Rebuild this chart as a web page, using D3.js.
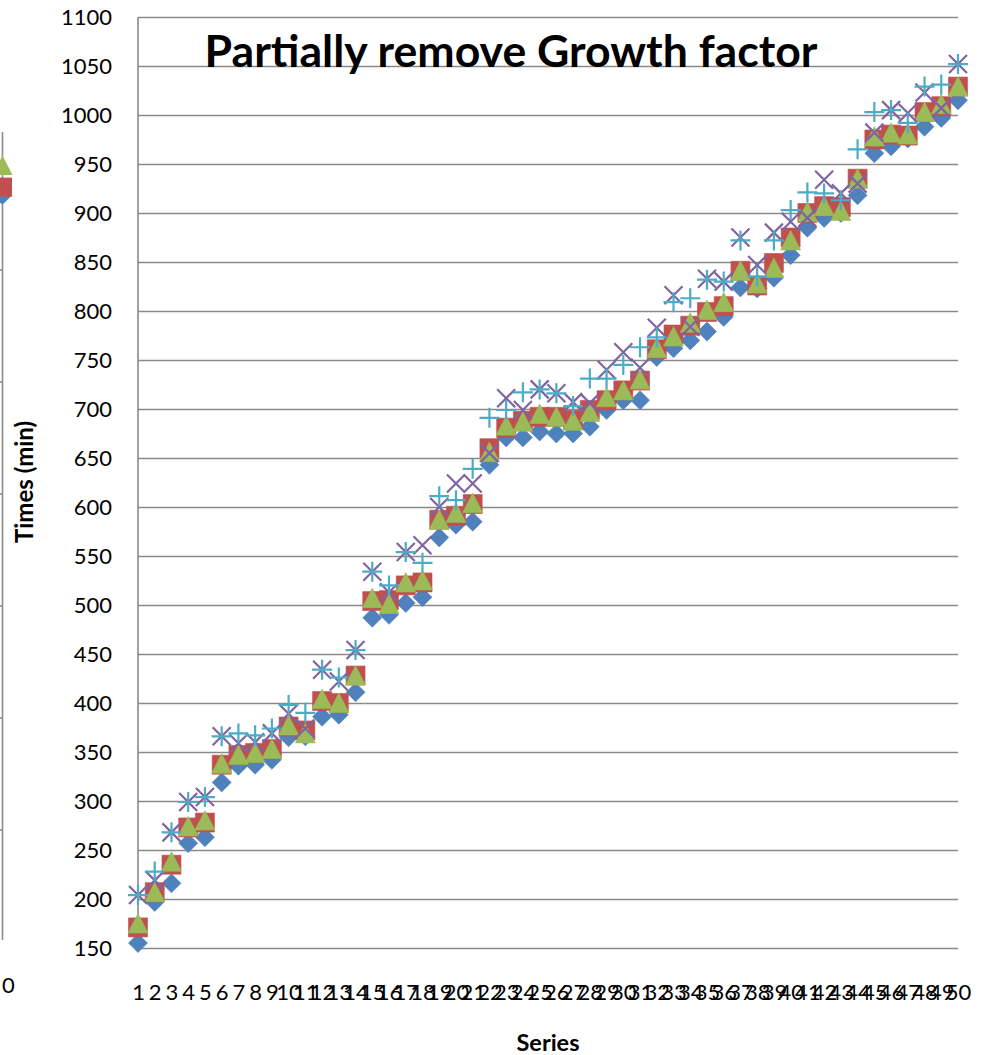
<!DOCTYPE html>
<html>
<head>
<meta charset="utf-8">
<script src="https://cdn.jsdelivr.net/npm/d3@7"></script>
<style>
  body { margin: 0; background: #fff; overflow: hidden; }
  svg text { font-family: Lato, "Open Sans", sans-serif; fill: #000; }
</style>
</head>
<body>
<div id="container"></div>
<script>
/* CONSTANTS AND DATA */
const width = 984,
  height = 1055,
  margin = { top: 17, bottom: 107, left: 138, right: 26 };

const categories = [1, 2, 3, 4, 5, 6, 7, 8, 9, 10, 11, 12, 13, 14, 15, 16, 17, 18, 19, 20,
  21, 22, 23, 24, 25, 26, 27, 28, 29, 30, 31, 32, 33, 34, 35, 36, 37, 38, 39, 40,
  41, 42, 43, 44, 45, 46, 47, 48, 49, 50];

const yTicks = [150, 200, 250, 300, 350, 400, 450, 500, 550, 600, 650, 700,
  750, 800, 850, 900, 950, 1000, 1050, 1100];

// series 1 - blue diamonds
const series1 = [155, 197, 216, 257, 263, 319, 336, 337, 342, 365, 366, 386, 388, 411, 487, 490, 502, 508, 569, 582,
  585, 643, 671, 671, 677, 675, 675, 682, 699, 709, 709, 753, 762, 770, 779, 794, 824, 823, 834, 857,
  885, 895, 900, 918, 961, 968, 976, 988, 997, 1015];
// series 2 - red squares
const series2 = [171, 207, 235, 273, 278, 337, 347, 349, 353, 376, 372, 402, 400, 428, 504, 505, 520, 523, 587, 591,
  603, 660, 681, 688, 692, 692, 689, 699, 709, 719, 729, 761, 776, 785, 799, 805, 841, 826, 849, 875,
  900, 907, 906, 935, 975, 980, 979, 1003, 1009, 1029];
// series 3 - green triangles
const series3 = [175, 207, 238, 274, 280, 338, 347, 349, 353, 377, 369, 404, 400, 428, 507, 501, 523, 525, 587, 594,
  604, 656, 683, 687, 695, 692, 688, 697, 712, 719, 730, 762, 774, 788, 801, 809, 841, 828, 844, 872,
  901, 907, 902, 935, 978, 982, 980, 1003, 1011, 1029];
// series 4 - purple crosses
const series4 = [204, 219, 268, 299, 304, 366, 359, 360, 369, 389, 374, 434, 422, 454, 534, 513, 554, 561, 600, 624,
  624, 655, 711, 699, 720, 716, 707, 706, 740, 758, 742, 783, 816, 784, 833, 830, 875, 847, 880, 891,
  895, 934, 920, 930, 982, 1005, 1002, 1023, 1007, 1052];
// series 5 - aqua plus
const series5 = [204, 228, 268, 299, 304, 366, 369, 367, 374, 398, 390, 434, 426, 454, 534, 520, 554, 543, 611, 607,
  639, 691, 699, 717, 720, 716, 703, 731, 731, 745, 763, 773, 809, 813, 832, 830, 872, 835, 872, 903,
  921, 920, 913, 965, 1003, 1005, 992, 1029, 1031, 1052];

// neighbouring chart, cut off at the left edge: its last point and axis ticks
const neighbourLast = [1000, 1011, 1040];
const neighbourTicks = [150, 300, 450, 600, 750, 900];

/* SVG */
const svg = d3.select("#container")
  .append("svg")
  .attr("width", width)
  .attr("height", height)
  .style("background-color", "white");

/* SCALES */
const x = d3.scalePoint()
  .domain(categories)
  .range([margin.left, width - margin.right]);

const y = d3.scaleLinear()
  .domain([150, 1100])
  .range([948, margin.top]);

const yNeighbour = d3.scaleLinear()
  .domain([0, 1050])
  .range([942, 158]);

/* MARKER SHAPES (size = half extent in px) */
const diamond = { draw(ctx, r) { ctx.moveTo(0, -r); ctx.lineTo(r, 0); ctx.lineTo(0, r); ctx.lineTo(-r, 0); ctx.closePath(); } };
const square = { draw(ctx, r) { ctx.rect(-r, -r, 2 * r, 2 * r); } };
const triangle = { draw(ctx, r) { ctx.moveTo(0, -r); ctx.lineTo(r, r * 0.95); ctx.lineTo(-r, r * 0.95); ctx.closePath(); } };
const cross = { draw(ctx, r) { ctx.moveTo(-r, -r); ctx.lineTo(r, r); ctx.moveTo(r, -r); ctx.lineTo(-r, r); } };
const plus = { draw(ctx, r) { ctx.moveTo(-r, 0); ctx.lineTo(r, 0); ctx.moveTo(0, -r); ctx.lineTo(0, r); } };

/* GRIDLINES */
const grid = svg.append("g")
  .attr("transform", `translate(${margin.left},0)`)
  .call(d3.axisLeft(y).tickValues(yTicks).tickSize(-(width - margin.left - margin.right)).tickFormat(""));
grid.select(".domain").remove();
grid.selectAll("line").attr("stroke", "#8a8a8a").attr("stroke-width", 1.6);

svg.append("line")
  .attr("x1", margin.left).attr("x2", margin.left)
  .attr("y1", y(150)).attr("y2", y(1100))
  .attr("stroke", "#8a8a8a").attr("stroke-width", 1.6);

/* Y AXIS LABELS */
const yAxis = svg.append("g")
  .attr("transform", `translate(${margin.left},0)`)
  .call(d3.axisLeft(y).tickValues(yTicks).tickSize(0).tickPadding(26).tickFormat(d3.format("d")));
yAxis.select(".domain").remove();
yAxis.selectAll("text")
  .style("font-family", "Lato, 'Open Sans', sans-serif")
  .style("font-size", "22px")
  .attr("fill", "#000");

/* X AXIS LABELS */
const xAxis = svg.append("g")
  .attr("transform", `translate(0,${y(150)})`)
  .call(d3.axisBottom(x).tickSize(0));
xAxis.select(".domain").remove();
xAxis.selectAll("text")
  .attr("y", 0)
  .attr("dy", 0)
  .attr("transform", "translate(0,52)")
  .style("font-family", "Lato, 'Open Sans', sans-serif")
  .style("font-size", "22px")
  .attr("fill", "#000");

/* SERIES */
const seriesList = [
  { values: series1, type: diamond, r: 9.5, fill: "#4F81BD" },
  { values: series2, type: square, r: 9.5, fill: "#C0504D" },
  { values: series3, type: triangle, r: 10, fill: "#9BBB59" },
  { values: series4, type: cross, r: 9, stroke: "#8064A2" },
  { values: series5, type: plus, r: 10, stroke: "#4BACC6" }
];

seriesList.forEach((s, k) => {
  svg.append("g")
    .attr("class", "series" + (k + 1))
    .selectAll("path")
    .data(s.values)
    .join("path")
    .attr("transform", (d, i) => `translate(${x(categories[i])},${y(d)})`)
    .attr("d", d3.symbol().type(s.type).size(s.r))
    .attr("fill", s.fill || "none")
    .attr("stroke", s.stroke || s.fill)
    .attr("stroke-width", s.stroke ? 2.2 : 0.6);
});

/* NEIGHBOUR CHART RESIDUE */
svg.append("line")
  .attr("x1", 2.5).attr("x2", 2.5)
  .attr("y1", 132).attr("y2", yNeighbour(0) - 2)
  .attr("stroke", "#8a8a8a").attr("stroke-width", 1.6);
svg.selectAll("line.ntick")
  .data(neighbourTicks)
  .join("line")
  .attr("class", "ntick")
  .attr("x1", 0).attr("x2", 2.5)
  .attr("y1", d => yNeighbour(d)).attr("y2", d => yNeighbour(d))
  .attr("stroke", "#8a8a8a").attr("stroke-width", 1.6);

const neighbourStyles = [
  { type: diamond, r: 9.5, fill: "#4F81BD" },
  { type: square, r: 9.5, fill: "#C0504D" },
  { type: triangle, r: 10, fill: "#9BBB59" }
];
svg.selectAll("path.nmark")
  .data(neighbourLast)
  .join("path")
  .attr("class", "nmark")
  .attr("transform", d => `translate(2.5,${yNeighbour(d)})`)
  .attr("d", (d, i) => d3.symbol().type(neighbourStyles[i].type).size(neighbourStyles[i].r)())
  .attr("fill", (d, i) => neighbourStyles[i].fill);

// only the last digit of the neighbour's "50" label shows
svg.append("text")
  .attr("x", 2)
  .attr("y", 993)
  .attr("text-anchor", "start")
  .style("font-size", "22px")
  .text("0");

/* TITLES */
const title = svg.append("text")
  .attr("x", 511)
  .attr("y", 67)
  .attr("text-anchor", "middle")
  .style("font-weight", "bold")
  .style("font-size", "40px")
  .text("Partially remove Growth factor");
const tw = title.node().getComputedTextLength();
title.style("font-size", (40 * 613 / tw).toFixed(1) + "px");

const yTitle = svg.append("text")
  .attr("transform", "translate(33,482) rotate(-90)")
  .attr("text-anchor", "middle")
  .style("font-weight", "bold")
  .style("font-size", "22px")
  .text("Times (min)");
const yw = yTitle.node().getComputedTextLength();
yTitle.style("font-size", Math.min(24, 22 * 132 / yw).toFixed(1) + "px");

const xTitle = svg.append("text")
  .attr("x", 548)
  .attr("y", 1051)
  .attr("text-anchor", "middle")
  .style("font-weight", "bold")
  .style("font-size", "22px")
  .text("Series");
const xw = xTitle.node().getComputedTextLength();
xTitle.style("font-size", Math.min(24, 22 * 63 / xw).toFixed(1) + "px");
</script>
</body>
</html>
